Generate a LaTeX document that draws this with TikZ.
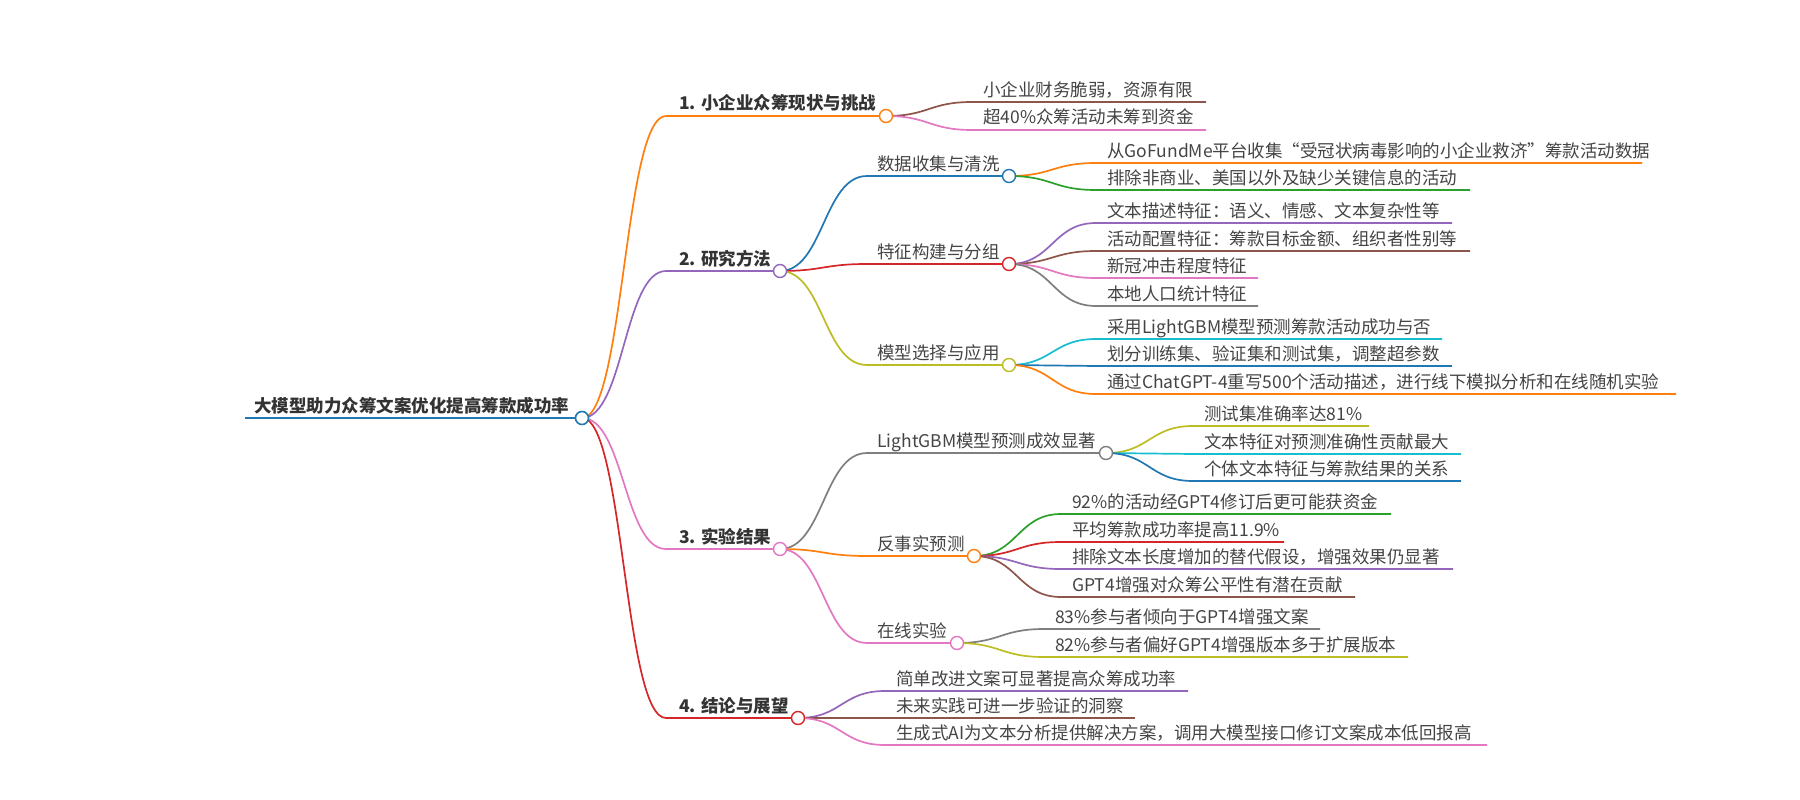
\documentclass[tikz,border=0pt]{standalone}
\usepackage{fontspec}
\setmainfont{Noto Sans CJK SC}
\usetikzlibrary{calc}
\definecolor{cblue}{HTML}{1F77B4}
\definecolor{corange}{HTML}{FF7F0E}
\definecolor{cgreen}{HTML}{2CA02C}
\definecolor{cred}{HTML}{D62728}
\definecolor{cpurple}{HTML}{9467BD}
\definecolor{cbrown}{HTML}{8C564B}
\definecolor{cpink}{HTML}{E377C2}
\definecolor{cgray}{HTML}{7F7F7F}
\definecolor{colive}{HTML}{BCBD22}
\definecolor{ccyan}{HTML}{17BECF}
\definecolor{tx}{HTML}{333333}
\definecolor{tx2}{HTML}{444444}
\pgfdeclarelayer{bg}
\pgfsetlayers{bg,main}
\tikzset{
  mmdot/.style={circle, draw=#1, fill=white, line width=1.4pt, minimum size=13pt, inner sep=0pt},
  mmlk/.style={draw=#1, line width=1.7pt},
  mmtxt/.style={anchor=base west, inner sep=0pt, text=tx2, font=\fontsize{17.5}{20}\selectfont},
  mmbtxt/.style={anchor=base west, inner sep=0pt, text=tx, font=\fontsize{17.5}{20}\selectfont\bfseries},
}
% link: color, parent node, child start coordinate, end (node or coordinate)
\newcommand\mmlink[4]{%
  \begin{pgfonlayer}{bg}
  \draw[mmlk=#1] let \p1=(#2.center), \p2=(#3) in
    (\p1) .. controls ({0.5*\x1+0.5*\x2},\y1) and ({0.5*\x1+0.5*\x2},\y2) .. (\p2) -- (#4.center);
  \end{pgfonlayer}}
% inner node: name, color, parent, xstart, y, xcircle, text, textstyle, textoffset
\newcommand\mminner[9]{%
  \coordinate (#1s) at (#4,#5);
  \node[mmdot=#2] (#1) at (#6,#5) {};
  \node[#8] (#1t) at ({#4+#9},{#5-6}) {#7};
  \mmlink{#2}{#3}{#1s}{#1}}
% leaf: name, color, parent, xstart, y, xend, text
\newcommand\mmleaf[7]{%
  \coordinate (#1s) at (#4,#5);
  \coordinate (#1e) at (#6,#5);
  \node[mmtxt] (#1t) at ({#4+11},{#5-6}) {#7};
  \mmlink{#2}{#3}{#1s}{#1e}}
\begin{document}
\begin{tikzpicture}[x=1pt,y=-1pt]
\useasboundingbox (0,0) rectangle (1800,800);
% root
\coordinate (Rs) at (245,418);
\node[mmdot=cblue, line width=1.6pt] (R) at (582,418) {};
\node[mmbtxt] (Rt) at (254,412) {大模型助力众筹文案优化提高筹款成功率};
\begin{pgfonlayer}{bg}\draw[mmlk=cblue, line width=2.5pt] (Rs) -- (R.center);\end{pgfonlayer}
% level 1
\mminner{A}{corange}{R}{666}{116}{886}{1. 小企业众筹现状与挑战}{mmbtxt}{13}
\mminner{B}{cpurple}{R}{666}{271}{780}{2. 研究方法}{mmbtxt}{13}
\mminner{C}{cpink}{R}{666}{549}{780}{3. 实验结果}{mmbtxt}{13}
\mminner{D}{cred}{R}{666}{718}{798}{4. 结论与展望}{mmbtxt}{13}
% level 2
\mminner{Ba}{cblue}{B}{867}{176}{1009}{数据收集与清洗}{mmtxt}{10}
\mminner{Bb}{cred}{B}{867}{264}{1009}{特征构建与分组}{mmtxt}{10}
\mminner{Bc}{colive}{B}{867}{365}{1009}{模型选择与应用}{mmtxt}{10}
\mminner{Ca}{cgray}{C}{867}{453}{1106}{LightGBM模型预测成效显著}{mmtxt}{10}
\mminner{Cb}{corange}{C}{867}{556}{974}{反事实预测}{mmtxt}{10}
\mminner{Cc}{cpink}{C}{867}{643}{957}{在线实验}{mmtxt}{10}
% leaves
\mmleaf{a1}{cbrown}{A}{972}{102}{1206}{小企业财务脆弱，资源有限}
\mmleaf{a2}{cpink}{A}{972}{130}{1206}{超40\%众筹活动未筹到资金}
\mmleaf{b11}{corange}{Ba}{1096}{163}{1642}{从GoFundMe平台收集“受冠状病毒影响的小企业救济”筹款活动数据}
\mmleaf{b12}{cgreen}{Ba}{1096}{190}{1470}{排除非商业、美国以外及缺少关键信息的活动}
\mmleaf{b21}{cpurple}{Bb}{1096}{223}{1452}{文本描述特征：语义、情感、文本复杂性等}
\mmleaf{b22}{cbrown}{Bb}{1096}{251}{1470}{活动配置特征：筹款目标金额、组织者性别等}
\mmleaf{b23}{cpink}{Bb}{1096}{278}{1258}{新冠冲击程度特征}
\mmleaf{b24}{cgray}{Bb}{1096}{306}{1258}{本地人口统计特征}
\mmleaf{b31}{ccyan}{Bc}{1096}{339}{1442}{采用LightGBM模型预测筹款活动成功与否}
\mmleaf{b32}{cblue}{Bc}{1096}{366}{1452}{划分训练集、验证集和测试集，调整超参数}
\mmleaf{b33}{corange}{Bc}{1096}{394}{1676}{通过ChatGPT-4重写500个活动描述，进行线下模拟分析和在线随机实验}
\mmleaf{c11}{colive}{Ca}{1193}{426}{1369}{测试集准确率达81\%}
\mmleaf{c12}{ccyan}{Ca}{1193}{454}{1461}{文本特征对预测准确性贡献最大}
\mmleaf{c13}{cblue}{Ca}{1193}{481}{1461}{个体文本特征与筹款结果的关系}
\mmleaf{c21}{cgreen}{Cb}{1061}{514}{1391}{92\%的活动经GPT4修订后更可能获资金}
\mmleaf{c22}{cred}{Cb}{1061}{542}{1284}{平均筹款成功率提高11.9\%}
\mmleaf{c23}{cpurple}{Cb}{1061}{569}{1453}{排除文本长度增加的替代假设，增强效果仍显著}
\mmleaf{c24}{cbrown}{Cb}{1061}{597}{1355}{GPT4增强对众筹公平性有潜在贡献}
\mmleaf{c31}{cgray}{Cc}{1044}{629}{1320}{83\%参与者倾向于GPT4增强文案}
\mmleaf{c32}{colive}{Cc}{1044}{657}{1408}{82\%参与者偏好GPT4增强版本多于扩展版本}
\mmleaf{d1}{cpurple}{D}{885}{691}{1188}{简单改进文案可显著提高众筹成功率}
\mmleaf{d2}{cbrown}{D}{885}{718}{1135}{未来实践可进一步验证的洞察}
\mmleaf{d3}{cpink}{D}{885}{745}{1487}{生成式AI为文本分析提供解决方案，调用大模型接口修订文案成本低回报高}
\end{tikzpicture}
\end{document}
